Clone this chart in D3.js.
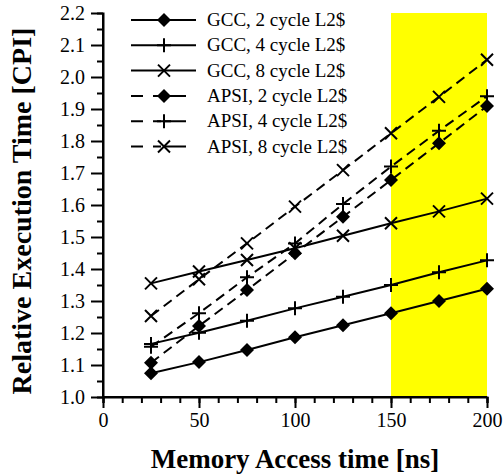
<!DOCTYPE html>
<html>
<head>
<meta charset="utf-8">
<script src="https://cdn.jsdelivr.net/npm/d3@7"></script>
<style>
  body { margin: 0; background: #fff; }
  text { font-family: "Liberation Serif", "DejaVu Serif", serif; }
</style>
</head>
<body>
<div id="chart"></div>
<script>
// memory access time [ns]
var accessTimes = [25, 50, 75, 100, 125, 150, 175, 200];

var seriesNames = [
  "GCC, 2 cycle L2$", "GCC, 4 cycle L2$", "GCC, 8 cycle L2$",
  "APSI, 2 cycle L2$", "APSI, 4 cycle L2$", "APSI, 8 cycle L2$"
];
var seriesMarkers = ["diamond", "plus", "cross", "diamond", "plus", "cross"];
var seriesDashed = [false, false, false, true, true, true];

var gcc2 = [1.074, 1.109, 1.147, 1.187, 1.224, 1.262, 1.300, 1.338];
var gcc4 = [1.166, 1.201, 1.238, 1.277, 1.313, 1.350, 1.390, 1.427];
var gcc8 = [1.355, 1.392, 1.428, 1.465, 1.504, 1.543, 1.580, 1.620];
var apsi2 = [1.107, 1.222, 1.334, 1.449, 1.563, 1.678, 1.793, 1.909];
var apsi4 = [1.157, 1.262, 1.374, 1.480, 1.603, 1.720, 1.832, 1.940];
var apsi8 = [1.253, 1.368, 1.480, 1.595, 1.709, 1.824, 1.938, 2.054];
var allSeries = [gcc2, gcc4, gcc8, apsi2, apsi4, apsi8];

var xTicks = [0, 50, 100, 150, 200];
var yTicks = [1.0, 1.1, 1.2, 1.3, 1.4, 1.5, 1.6, 1.7, 1.8, 1.9, 2.0, 2.1, 2.2];
var highlightRange = [150, 200];

var Width = 504, Height = 475;
var svg = d3.select("#chart").append("svg")
  .attr("width", Width)
  .attr("height", Height);

var x = d3.scaleLinear().domain([0, 200]).range([103, 487]);
var y = d3.scaleLinear().domain([1.0, 2.2]).range([397, 13]);

// yellow band
svg.append("rect")
  .attr("x", x(highlightRange[0]))
  .attr("y", y(2.2))
  .attr("width", x(highlightRange[1]) - x(highlightRange[0]))
  .attr("height", y(1.0) - y(2.2))
  .attr("fill", "#ffff00");

// axes
var xAxis = d3.axisBottom(x).tickValues(xTicks).tickSize(11).tickPadding(5).tickFormat(d3.format("d"));
var xMinor = d3.axisBottom(x).tickValues(d3.range(0, 201, 10)).tickSize(6).tickFormat("");
var yAxis = d3.axisLeft(y).tickValues(yTicks).tickSize(12).tickPadding(6).tickFormat(d3.format(".1f"));
var yMinor = d3.axisLeft(y).tickValues(d3.range(1.05, 2.2, 0.1)).tickSize(6).tickFormat("");

function styleAxis(g) {
  g.selectAll("path, line").attr("stroke", "#000").attr("stroke-width", 2);
  g.selectAll("text").attr("font-size", 20).attr("fill", "#000")
    .style("font-family", "'Liberation Serif', serif");
}

svg.append("g").attr("transform", "translate(0," + y(1.0) + ")").call(xMinor).call(styleAxis);
svg.append("g").attr("transform", "translate(0," + y(1.0) + ")").call(xAxis).call(styleAxis)
  .select(".domain").attr("d", "M" + x(0) + ",0H" + x(200));
svg.append("g").attr("transform", "translate(" + x(0) + ",0)").call(yMinor).call(styleAxis);
svg.append("g").attr("transform", "translate(" + x(0) + ",0)").call(yAxis).call(styleAxis)
  .select(".domain").attr("d", "M0," + y(2.2) + "V" + y(1.0));

// axis titles
svg.append("text")
  .attr("x", 295).attr("y", 468)
  .attr("text-anchor", "middle")
  .attr("font-size", 27).attr("font-weight", "bold")
  .text("Memory Access time [ns]");
svg.append("text")
  .attr("transform", "translate(31,211) rotate(-90)")
  .attr("text-anchor", "middle")
  .attr("font-size", 28).attr("font-weight", "bold")
  .text("Relative Execution Time [CPI]");

// markers
function drawMarker(g, type, cx, cy) {
  if (type === "diamond") {
    g.append("path")
      .attr("d", "M" + cx + "," + (cy - 7) + "L" + (cx + 7) + "," + cy + "L" + cx + "," + (cy + 7) + "L" + (cx - 7) + "," + cy + "Z")
      .attr("fill", "#000");
  } else if (type === "plus") {
    g.append("path")
      .attr("d", "M" + (cx - 7) + "," + cy + "H" + (cx + 7) + "M" + cx + "," + (cy - 7) + "V" + (cy + 7))
      .attr("stroke", "#000").attr("stroke-width", 2).attr("fill", "none");
  } else {
    g.append("path")
      .attr("d", "M" + (cx - 6) + "," + (cy - 6) + "L" + (cx + 6) + "," + (cy + 6) + "M" + (cx - 6) + "," + (cy + 6) + "L" + (cx + 6) + "," + (cy - 6))
      .attr("stroke", "#000").attr("stroke-width", 2).attr("fill", "none");
  }
}

var line = d3.line()
  .x(function (d) { return x(d[0]); })
  .y(function (d) { return y(d[1]); });

allSeries.forEach(function (vals, i) {
  var pts = accessTimes.map(function (t, j) { return [t, vals[j]]; });
  var g = svg.append("g");
  g.append("path")
    .attr("d", line(pts))
    .attr("fill", "none")
    .attr("stroke", "#000")
    .attr("stroke-width", 2)
    .attr("stroke-dasharray", seriesDashed[i] ? "10,6" : null);
  pts.forEach(function (p) { drawMarker(g, seriesMarkers[i], x(p[0]), y(p[1])); });
});

// legend
var legend = svg.append("g");
seriesNames.forEach(function (name, i) {
  var ly = 20 + i * 25.3;
  var row = legend.append("g");
  row.append("path")
    .attr("d", "M131," + ly + "H" + (seriesDashed[i] ? 186 : 196))
    .attr("stroke", "#000").attr("stroke-width", 2)
    .attr("stroke-dasharray", seriesDashed[i] ? "12,10,8,4,21" : null);
  drawMarker(row, seriesMarkers[i], 164, ly);
  row.append("text")
    .attr("x", 207).attr("y", ly + 6)
    .attr("font-size", 19)
    .text(name);
});
</script>
</body>
</html>
